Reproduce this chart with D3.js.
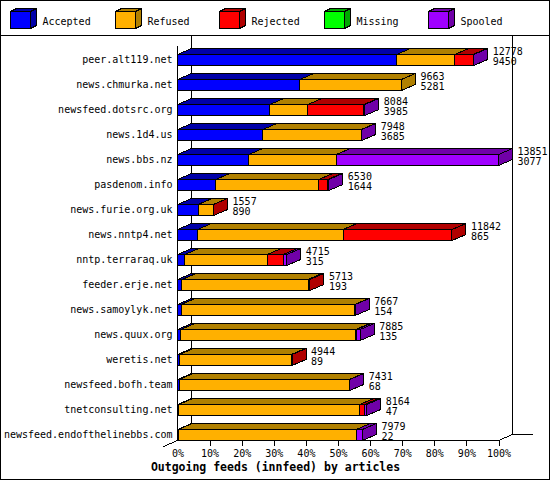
<!DOCTYPE html>
<meta charset="utf-8">
<html>
<script src="https://d3js.org/d3.v7.min.js"></script>
<style>
  body { margin: 0; background: #fff; }
  svg text { font-family: "DejaVu Sans Mono", monospace; font-size: 10px; fill: #000; }
</style>
<body>
<div id="chart"></div>
<script>

// data
const hosts = ["peer.alt119.net", "news.chmurka.net", "newsfeed.dotsrc.org", "news.1d4.us",
  "news.bbs.nz", "pasdenom.info", "news.furie.org.uk", "news.nntp4.net", "nntp.terraraq.uk",
  "feeder.erje.net", "news.samoylyk.net", "news.quux.org", "weretis.net", "newsfeed.bofh.team",
  "tnetconsulting.net", "newsfeed.endofthelinebbs.com"];
const offered  = [12778, 9663, 8084, 7948, 13851, 6530, 1557, 11842, 4715, 5713, 7667, 7885, 4944, 7431, 8164, 7979];
const accepted = [9450, 5281, 3985, 3685, 3077, 1644, 890, 865, 315, 193, 154, 135, 89, 68, 47, 22];
const refused  = [2513, 4382, 1640, 4240, 3782, 4452, 650, 6282, 3554, 5440, 7496, 7545, 4816, 7352, 7818, 7687];
const rejected = [793, 0, 2420, 0, 0, 388, 17, 4695, 691, 80, 0, 60, 39, 0, 215, 0];
const missing  = [0, 0, 0, 0, 0, 0, 0, 0, 0, 0, 0, 0, 0, 0, 0, 0];
const spooled  = [22, 0, 39, 23, 6992, 46, 0, 0, 155, 0, 17, 145, 0, 11, 84, 270];
const seriesNames = ["Accepted", "Refused", "Rejected", "Missing", "Spooled"];
const pctTicks = [0, 10, 20, 30, 40, 50, 60, 70, 80, 90, 100];

const front = ["#0000ff", "#ffb000", "#ff0000", "#00ff00", "#a000ff"];
const dark  = ["#0000a8", "#b08000", "#b00000", "#00a800", "#7000a8"];

const W = 550, H = 480;
const dx = 14, dy = 6;     // 3d depth of bars
const barH = 11;

const svg = d3.select("#chart").append("svg")
    .attr("width", W).attr("height", H);
const g = svg.append("g")
    .attr("transform", "translate(0.5,0.5)")
    .attr("shape-rendering", "crispEdges");

// frame
g.append("rect").attr("x", 0).attr("y", 0).attr("width", W - 1).attr("height", H - 1)
  .attr("fill", "none").attr("stroke", "#000");
g.append("line").attr("x1", 0).attr("x2", W - 1).attr("y1", 35).attr("y2", 35).attr("stroke", "#000");

// legend
const series = [accepted, refused, rejected, missing, spooled];
const leg = g.selectAll(".leg").data(seriesNames).join("g")
    .attr("transform", (d, i) => `translate(${Math.round(10 + i * 104.5)},11)`);
leg.append("polygon")
    .attr("points", "0,0 6,-3 26,-3 20,0")
    .attr("fill", (d, i) => dark[i]).attr("stroke", "#000");
leg.append("polygon")
    .attr("points", "20,0 26,-3 26,14 20,17")
    .attr("fill", (d, i) => dark[i]).attr("stroke", "#000");
leg.append("rect").attr("width", 20).attr("height", 17)
    .attr("fill", (d, i) => front[i]).attr("stroke", "#000");
leg.append("text").attr("x", 32).attr("y", 13).text(d => d);

// scales
const x = d3.scaleLinear().domain([0, 100]).range([177, 498]);
const y = d3.scaleBand().domain(hosts).range([40, 440]);
const maxTotal = d3.max(offered);
const px = c => x(c / maxTotal * 100);

// back wall and floor
g.append("line").attr("x1", x(0) + dx).attr("x2", x(0) + dx).attr("y1", 35).attr("y2", 440 - dy).attr("stroke", "#000");
g.append("line").attr("x1", x(100) + dx).attr("x2", x(100) + dx).attr("y1", 35).attr("y2", 440 - dy).attr("stroke", "#000");
g.append("line").attr("x1", x(100) + dx).attr("x2", 532).attr("y1", 440 - dy).attr("y2", 440 - dy).attr("stroke", "#000");
g.append("line").attr("x1", x(0)).attr("x2", x(0)).attr("y1", 45).attr("y2", 440).attr("stroke", "#000");
g.append("line").attr("x1", x(100)).attr("x2", x(100) + dx).attr("y1", 440).attr("y2", 440 - dy).attr("stroke", "#000");
g.append("line").attr("x1", x(0) - 14).attr("x2", x(0)).attr("y1", 446).attr("y2", 440).attr("stroke", "#000");

// bars
hosts.forEach((h, i) => {
  const top = y(h) + 14;
  let acc = 0;
  const segs = [];
  series.forEach((s, k) => {
    if (s[i] > 0) segs.push({k: k, x0: px(acc), x1: px(acc + s[i])});
    acc += s[i];
  });
  const row = g.append("g");
  segs.forEach(s => {
    row.append("polygon")
      .attr("points", `${s.x0},${top} ${s.x0 + dx},${top - dy} ${s.x1 + dx},${top - dy} ${s.x1},${top}`)
      .attr("fill", dark[s.k]).attr("stroke", "#000");
    row.append("rect")
      .attr("x", s.x0).attr("y", top).attr("width", s.x1 - s.x0).attr("height", barH)
      .attr("fill", front[s.k]).attr("stroke", "#000");
  });
  const last = segs[segs.length - 1];
  row.append("polygon")
    .attr("points", `${last.x1},${top} ${last.x1 + dx},${top - dy} ${last.x1 + dx},${top + barH - dy} ${last.x1},${top + barH}`)
    .attr("fill", dark[last.k]).attr("stroke", "#000");

  // value labels
  const tx = last.x1 + dx + 5;
  g.append("text").attr("x", tx).attr("y", y(h) + 14).text(offered[i]);
  g.append("text").attr("x", tx).attr("y", y(h) + 24).text(accepted[i]);
});

// host labels
g.selectAll(".host").data(hosts).join("text")
    .attr("x", 172).attr("y", d => y(d) + 22.5)
    .attr("text-anchor", "end")
    .text(d => d);

// x axis
const ax = g.append("g")
    .attr("transform", "translate(0,440)")
    .call(d3.axisBottom(x).tickValues(pctTicks).tickFormat(d => d + "%").tickSize(5).tickPadding(4));
ax.select(".domain").remove();
ax.selectAll(".tick line").attr("stroke", "#000").filter(d => d === 0).remove();
ax.selectAll(".tick text")
    .style("font-family", '"DejaVu Sans Mono", monospace').style("font-size", "10px").attr("fill", "#000");
g.append("line").attr("x1", x(0)).attr("x2", x(100)).attr("y1", 440).attr("y2", 440).attr("stroke", "#000");

// title
g.append("text").attr("x", 275).attr("y", 470)
    .attr("text-anchor", "middle")
    .style("font-weight", "bold").style("font-size", "11.5px")
    .text("Outgoing feeds (innfeed) by articles");

</script>
</body>
</html>
